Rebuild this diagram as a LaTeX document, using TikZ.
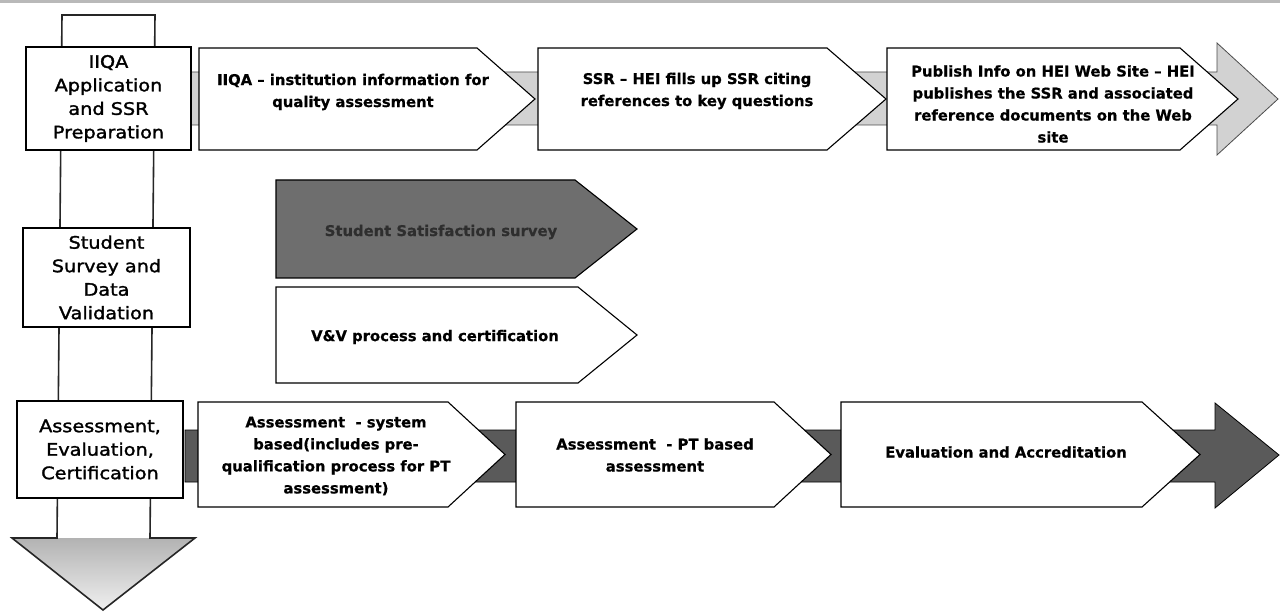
\documentclass[tikz,border=0pt]{standalone}
\usepackage{fontspec}
\newfontfamily\boxfont[FakeStretch=1.12,FakeBold=1.6]{DejaVu Sans}
\newfontfamily\chevfont[FakeBold=0.6]{DejaVu Sans}
\definecolor{bandlight}{HTML}{D2D2D2}
\definecolor{banddark}{HTML}{5A5A5A}
\definecolor{surveyfill}{HTML}{6E6E6E}
\definecolor{surveytext}{HTML}{2E2E2E}
% pentagon step: style, left, top, bottom, shoulder, tip
\newcommand\plate[6]{%
  \path[#1] (#2,#3) -- (#5,#3) -- (#6,{(#3+#4)/2}) -- (#5,#4) -- (#2,#4) -- cycle;}
\begin{document}
\begin{tikzpicture}[x=1pt,y=-1pt,
  lbl/.style={font=\boxfont\fontsize{17.2}{23.5}\selectfont, align=center, inner sep=0pt},
  ctext/.style={font=\chevfont\bfseries\fontsize{14.8}{22}\selectfont, align=center, inner sep=0pt},
  chev/.style={draw=black, line width=1.1pt, fill=white, line join=miter},
  stagebox/.style={draw=black, line width=2pt, fill=white},
]
\useasboundingbox (0,0) rectangle (1280,612);
\fill[white] (0,0) rectangle (1280,612);
\fill[gray!55] (0,0) rectangle (1280,3);

% vertical timeline arrow
\fill[white] (62,15) -- (155,15) -- (150,538) -- (57,538) -- cycle;
\shade[top color=gray!60, bottom color=gray!12] (12,538) -- (195,538) -- (103,610) -- cycle;
\draw[black!85, line width=1.6pt, line join=miter]
  (62,15) -- (155,15) -- (150,538) -- (195,538) -- (103,610) -- (12,538) -- (57,538) -- cycle;

% top row backing arrow
\path[fill=bandlight, draw=gray!60!black, line width=0.8pt]
  (185,72) -- (1217,72) -- (1217,43) -- (1278,99) -- (1217,155) -- (1217,125) -- (185,125) -- cycle;
% bottom row backing arrow
\path[fill=banddark, draw=black, line width=0.8pt]
  (185,430) -- (1215,430) -- (1215,403) -- (1279,455) -- (1215,508) -- (1215,482) -- (185,482) -- cycle;

% stage boxes
\draw[stagebox] (26,47) rectangle (191,150);
\node[lbl] (s1) at (108.5,98.5) {IIQA\\Application\\and SSR\\Preparation};
\draw[stagebox] (23,228) rectangle (190,327);
\node[lbl] (s2) at (106.5,277.5) {Student\\Survey and\\Data\\Validation};
\draw[stagebox] (17,401) rectangle (183,498);
\node[lbl] (s3) at (100,449.5) {Assessment,\\Evaluation,\\Certification};

% top row steps
\plate{chev}{199}{48}{150}{477}{535}
\node[ctext] (t1) at (353,92) {IIQA – institution information for\\quality assessment};
\plate{chev}{538}{48}{150}{827}{886}
\node[ctext] (t2) at (697,91) {SSR – HEI fills up SSR citing\\references to key questions};
\plate{chev}{887}{48}{150}{1180}{1238}
\node[ctext] (t3) at (1053,104) {Publish Info on HEI Web Site – HEI\\publishes the SSR and associated\\reference documents on the Web\\site};

% middle steps
\plate{chev, fill=surveyfill}{276}{180}{278}{575}{637}
\node[ctext, text=surveytext] (m1) at (441,232) {Student Satisfaction survey};
\plate{chev}{276}{287}{383}{578}{637}
\node[ctext] (m2) at (435,337) {V\&V process and certification};

% bottom row steps
\plate{chev}{198}{402}{507}{448}{505}
\node[ctext] (b1) at (336,456) {Assessment\ \ - system\\based(includes pre-\\qualification process for PT\\assessment)};
\plate{chev}{516}{402}{507}{774}{831}
\node[ctext] (b2) at (655,455) {Assessment\ \ - PT based\\assessment};
\plate{chev}{841}{402}{507}{1142}{1200}
\node[ctext] (b3) at (1006,452) {Evaluation and Accreditation};
\end{tikzpicture}
\end{document}
